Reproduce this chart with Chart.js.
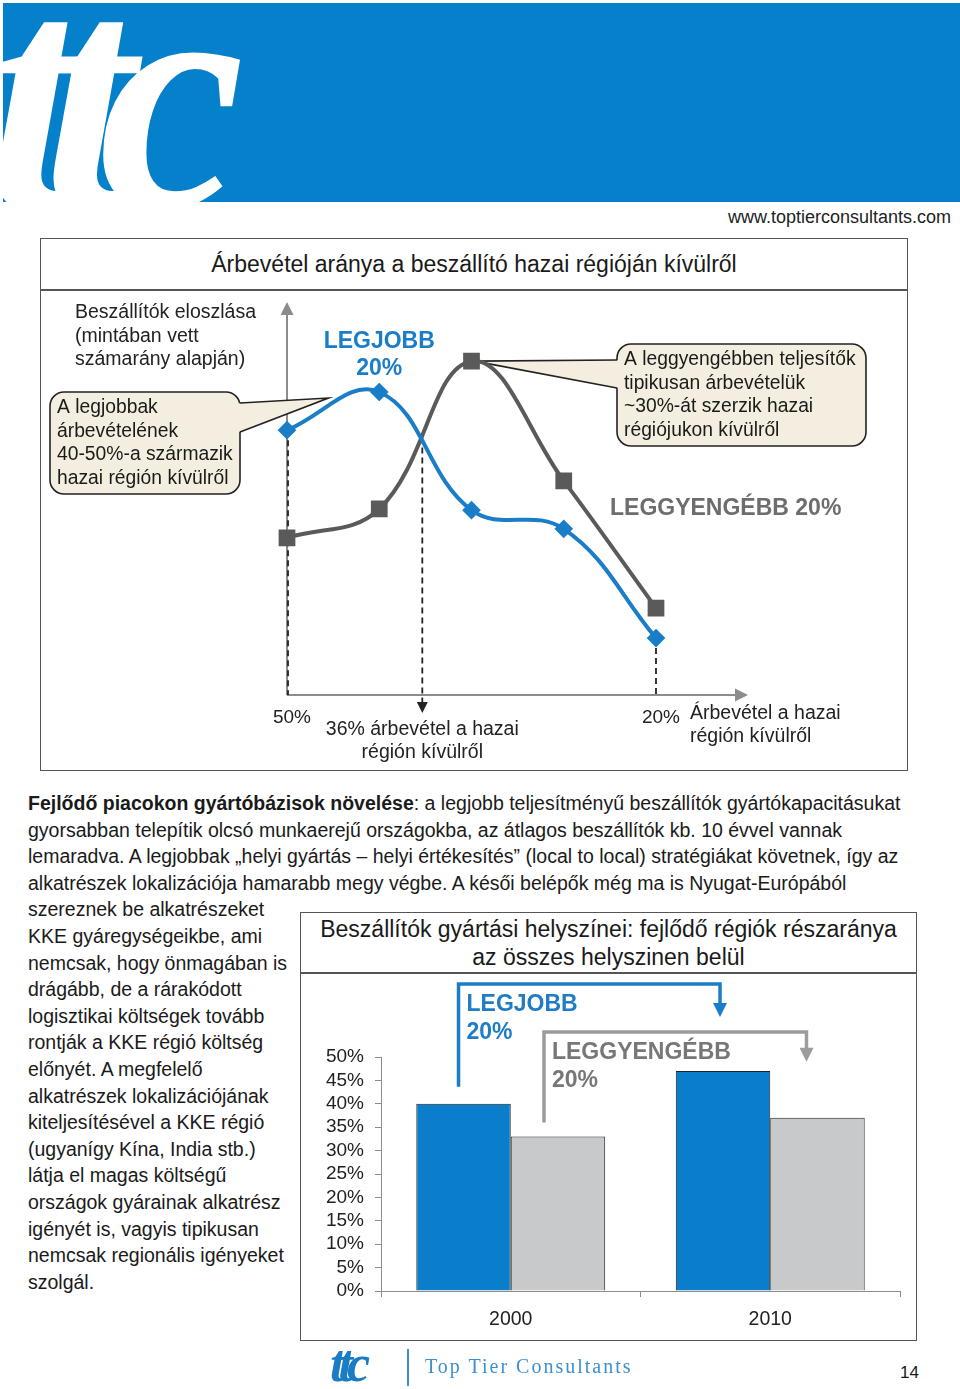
<!DOCTYPE html>
<html>
<head>
<meta charset="utf-8">
<script src="https://cdn.jsdelivr.net/npm/chart.js@4.4.1/dist/chart.umd.min.js"></script>
<style>
  body { margin: 0; background: #fff; font-family: "Liberation Sans", Arial, sans-serif; color: #1a1a1a; }
  #page { position: relative; width: 960px; height: 1389px; overflow: hidden; }
  .abs { position: absolute; }
  #banner { left: 3px; top: 3px; width: 957px; height: 199px; background: #0581cc; overflow: hidden; }
  #logo { left: -16px; top: -96px; font: italic bold 330px "Liberation Serif", serif; color: #fff; letter-spacing: -36px; white-space: nowrap; }
  #url { right: 9px; top: 207px; font-size: 18px; color: #222; }
  .box { border: 1.5px solid #555; box-sizing: border-box; }
  .boxtitle { font-size: 23px; color: #1a1a1a; text-align: center; line-height: 28px; }
  #para { left: 28px; top: 790px; font-size: 19.5px; line-height: 26.6px; white-space: nowrap; }
  #foot-logo { left: 330px; top: 1334px; font: italic bold 52px "Liberation Serif", serif; color: #1b7cc4; letter-spacing: -6px; }
  #foot-name { left: 425px; top: 1355px; font-family: "Liberation Serif", serif; font-size: 20px; color: #3d8fd0; letter-spacing: 2px; white-space: nowrap; }
</style>
</head>
<body>
<div id="page">
  <div id="banner" class="abs"><div id="logo" class="abs">ttc</div></div>
  <div id="url" class="abs">www.toptierconsultants.com</div>

  <!-- chart 1 frame -->
  <div class="abs box" style="left:40px;top:238px;width:868px;height:533px;"></div>
  <div class="abs" style="left:40px;top:289px;width:868px;height:1.5px;background:#555;"></div>
  <div class="abs boxtitle" style="left:40px;top:250px;width:868px;">Árbevétel aránya a beszállító hazai régióján kívülről</div>
  <canvas id="curveChart" class="abs" width="866" height="478" style="left:41px;top:291px;width:866px;height:478px;"></canvas>

  <div id="para" class="abs"><b>Fejlődő piacokon gyártóbázisok növelése</b>: a legjobb teljesítményű beszállítók gyártókapacitásukat<br>gyorsabban telepítik olcsó munkaerejű országokba, az átlagos beszállítók kb. 10 évvel vannak<br>lemaradva. A legjobbak „helyi gyártás – helyi értékesítés” (local to local) stratégiákat követnek, így az<br>alkatrészek lokalizációja hamarabb megy végbe. A késői belépők még ma is Nyugat-Európából<br>szereznek be alkatrészeket<br>KKE gyáregységeikbe, ami<br>nemcsak, hogy önmagában is<br>drágább, de a rárakódott<br>logisztikai költségek tovább<br>rontják a KKE régió költség<br>előnyét. A megfelelő<br>alkatrészek lokalizációjának<br>kiteljesítésével a KKE régió<br>(ugyanígy Kína, India stb.)<br>látja el magas költségű<br>országok gyárainak alkatrész<br>igényét is, vagyis tipikusan<br>nemcsak regionális igényeket<br>szolgál.</div>

  <!-- chart 2 frame -->
  <div class="abs box" style="left:300px;top:912px;width:617px;height:429px;"></div>
  <div class="abs" style="left:300px;top:972px;width:617px;height:1.5px;background:#555;"></div>
  <div class="abs boxtitle" style="left:300px;top:915px;width:617px;">Beszállítók gyártási helyszínei: fejlődő régiók részaránya<br>az összes helyszinen belül</div>
  <canvas id="barChart" class="abs" width="615" height="365" style="left:301px;top:974px;width:615px;height:365px;"></canvas>

  <div id="foot-logo" class="abs">ttc</div>
  <div class="abs" style="left:407px;top:1349px;width:2px;height:37px;background:#3d8fd0;"></div>
  <div id="foot-name" class="abs">Top Tier Consultants</div>
  <div class="abs" style="left:900px;top:1363px;font-size:17px;">14</div>
</div>

<script>
// --- chart 1: distribution of suppliers by revenue share earned outside home region ---
const shareSteps = [50, 42.5, 35, 27.5, 20];          // x: revenue share outside home region (%)
const bestSuppliers = [67.9, 77.7, 47.4, 42.6, 14.6];  // "LEGJOBB 20%" (relative count)
const weakestSuppliers = [40.3, 47.7, 85.6, 54.9, 22.3]; // "LEGGYENGÉBB 20%"
const axisTicks = [50, 20];
const markerAt = 39;        // where the "36%" arrow sits on the drawn axis
const markerFrom = 66;      // curve crossing height
const markerLabel = ['36% árbevétel a hazai', 'régión kívülről'];
const axisTitle = ['Árbevétel a hazai', 'régión kívülről'];

// --- chart 2: share of developing regions among production sites ---
const years = ['2000', '2010'];
const bestShare = [40, 47];
const weakestShare = [33, 37];

const BLUE = '#1a7dc8';
const DARK = '#5a5a5a';
const BEIGE = '#f3eedf';
const FONT = '"Liberation Sans", Arial, sans-serif';

function callout(ctx, box, side, b1, b2, tip, lines) {
  const r = 14;
  ctx.save();
  ctx.beginPath();
  ctx.roundRect(box.x, box.y, box.w, box.h, r);
  ctx.fillStyle = BEIGE;
  ctx.fill();
  ctx.lineWidth = 1.6;
  ctx.strokeStyle = '#222';
  ctx.stroke();
  const ex = side === 'right' ? box.x + box.w : box.x;
  const d = side === 'right' ? -3 : 3;
  ctx.beginPath();
  ctx.moveTo(ex + d, b1 + 1.5);
  ctx.lineTo(ex, b1);
  ctx.lineTo(tip.x, tip.y);
  ctx.lineTo(ex, b2);
  ctx.lineTo(ex + d, b2 - 1.5);
  ctx.closePath();
  ctx.fill();
  ctx.beginPath();
  ctx.moveTo(ex, b1);
  ctx.lineTo(tip.x, tip.y);
  ctx.lineTo(ex, b2);
  ctx.stroke();
  ctx.fillStyle = '#1a1a1a';
  ctx.font = '19.3px ' + FONT;
  ctx.textBaseline = 'middle';
  lines.forEach((t, i) => ctx.fillText(t, box.x + 7, box.y + 16 + i * 23.4));
  ctx.restore();
}

function tri(ctx, x, y, dir, size, color) {
  ctx.beginPath();
  if (dir === 'up') { ctx.moveTo(x, y); ctx.lineTo(x - size / 2, y + size); ctx.lineTo(x + size / 2, y + size); }
  if (dir === 'down') { ctx.moveTo(x, y); ctx.lineTo(x - size / 2, y - size); ctx.lineTo(x + size / 2, y - size); }
  if (dir === 'right') { ctx.moveTo(x, y); ctx.lineTo(x - size, y - size / 2); ctx.lineTo(x - size, y + size / 2); }
  ctx.closePath();
  ctx.fillStyle = color;
  ctx.fill();
}

const curveDecor = {
  id: 'curveDecor',
  beforeDatasetsDraw(chart) {
    const { ctx, chartArea, scales: { x, y } } = chart;
    const x0 = x.getPixelForValue(50), bottom = y.getPixelForValue(0);
    const best = chart.getDatasetMeta(0).data, weak = chart.getDatasetMeta(1).data;
    ctx.save();
    // axes with arrows
    ctx.strokeStyle = '#8c8c8c';
    ctx.lineWidth = 2;
    ctx.beginPath();
    ctx.moveTo(x0, bottom); ctx.lineTo(x0, chartArea.top + 10);
    ctx.moveTo(x0, bottom); ctx.lineTo(chartArea.right + 80, bottom);
    ctx.stroke();
    tri(ctx, x0, chartArea.top - 3, 'up', 13, '#8c8c8c');
    tri(ctx, chartArea.right + 92, bottom, 'right', 13, '#8c8c8c');

    // dashed drop lines
    ctx.strokeStyle = '#222';
    ctx.lineWidth = 1.8;
    ctx.setLineDash([6, 4]);
    ctx.beginPath();
    ctx.moveTo(best[0].x + 1, best[0].y); ctx.lineTo(best[0].x + 1, bottom);
    ctx.moveTo(best[4].x, best[4].y); ctx.lineTo(best[4].x, bottom);
    const mx = x.getPixelForValue(markerAt);
    ctx.moveTo(mx, y.getPixelForValue(markerFrom)); ctx.lineTo(mx, bottom + 8);
    ctx.stroke();
    ctx.setLineDash([]);
    tri(ctx, mx, bottom + 18, 'down', 11, '#222');

    // axis labels
    ctx.fillStyle = '#222';
    ctx.textBaseline = 'middle';
    ctx.font = '19px ' + FONT;
    ctx.textAlign = 'center';
    axisTicks.forEach(v => ctx.fillText(v + '%', x.getPixelForValue(v) + 5, bottom + 23));
    ctx.font = '19.5px ' + FONT;
    markerLabel.forEach((t, i) => ctx.fillText(t, mx, bottom + 35 + i * 23));
    ctx.textAlign = 'left';
    axisTitle.forEach((t, i) => ctx.fillText(t, chartArea.right + 34, bottom + 19 + i * 23));

    // headings
    ctx.fillText('Beszállítók eloszlása', 34, 22);
    ctx.fillText('(mintában vett', 34, 46);
    ctx.fillText('számarány alapján)', 34, 69);
    ctx.font = 'bold 23px ' + FONT;
    ctx.textAlign = 'center';
    ctx.fillStyle = BLUE;
    ctx.fillText('LEGJOBB', best[1].x, 51);
    ctx.fillText('20%', best[1].x, 78);
    ctx.textAlign = 'left';
    ctx.fillStyle = '#6d6d6d';
    ctx.fillText('LEGGYENGÉBB 20%', 569, 218);

    // callouts
    const tipL = { x: best[0].x + 0.45 * (best[1].x - best[0].x), y: best[0].y + 0.45 * (best[1].y - best[0].y) - 15 };
    callout(ctx, { x: 9, y: 101, w: 190, h: 102 }, 'right', 112, 141, tipL,
      ['A legjobbak', 'árbevételének', '40-50%-a származik', 'hazai régión kívülről']);
    callout(ctx, { x: 576, y: 53, w: 249, h: 102 }, 'left', 69, 97, { x: weak[2].x + 3, y: weak[2].y },
      ['A leggyengébben teljesítők', 'tipikusan árbevételük', '~30%-át szerzik hazai', 'régiójukon kívülről']);
    ctx.restore();
  }
};

new Chart(document.getElementById('curveChart'), {
  type: 'line',
  data: {
    datasets: [{
      label: 'LEGJOBB 20%',
      data: shareSteps.map((s, i) => ({ x: s, y: bestSuppliers[i] })),
      borderColor: BLUE,
      backgroundColor: BLUE,
      borderWidth: 4,
      tension: 0.4,
      pointStyle: 'rectRot',
      pointRadius: 6.5,
      clip: false,
    }, {
      label: 'LEGGYENGÉBB 20%',
      data: shareSteps.map((s, i) => ({ x: s, y: weakestSuppliers[i] })),
      borderColor: DARK,
      backgroundColor: DARK,
      borderWidth: 4,
      tension: 0.4,
      pointStyle: 'rect',
      pointRadius: 9,
      clip: false,
    }]
  },
  options: {
    responsive: false,
    animation: false,
    layout: { padding: { left: 246, right: 251, top: 14, bottom: 74 } },
    plugins: { legend: { display: false }, tooltip: { enabled: false } },
    scales: {
      x: { type: 'linear', reverse: true, min: 20, max: 50, display: false },
      y: { min: 0, max: 100, display: false }
    }
  },
  plugins: [curveDecor]
});

// bracket arrows above the bars
const bracketDecor = {
  id: 'bracketDecor',
  afterDatasetsDraw(chart) {
    const { ctx, chartArea } = chart;
    const b = chart.getDatasetMeta(0).data, g = chart.getDatasetMeta(1).data;
    const specs = [
      { from: b[0], to: b[1], dx0: -5, dx1: -3, top: chartArea.top - 73, gap0: 17, gap1: 54, color: BLUE, text: '#1f7cc5', label: ['LEGJOBB', '20%'] },
      { from: g[0], to: g[1], dx0: -14, dx1: -11, top: chartArea.top - 25, gap0: 14, gap1: 56, color: '#9c9c9c', text: '#777', label: ['LEGGYENGÉBB', '20%'] }
    ];
    ctx.save();
    specs.forEach(s => {
      const lx = s.from.x + s.dx0, rx = s.to.x + s.dx1, tipY = s.to.y - s.gap1;
      ctx.strokeStyle = s.color;
      ctx.lineWidth = 3.5;
      ctx.beginPath();
      ctx.moveTo(lx, s.from.y - s.gap0);
      ctx.lineTo(lx, s.top);
      ctx.lineTo(rx, s.top);
      ctx.lineTo(rx, tipY - 12);
      ctx.stroke();
      tri(ctx, rx, tipY, 'down', 14, s.color);
      ctx.fillStyle = s.text;
      ctx.font = 'bold 23px ' + FONT;
      ctx.textBaseline = 'middle';
      s.label.forEach((t, i) => ctx.fillText(t, lx + 8, s.top + 21 + i * 28));
    });
    ctx.restore();
  }
};

new Chart(document.getElementById('barChart'), {
  type: 'bar',
  data: {
    labels: years,
    datasets: [{
      label: 'LEGJOBB 20%',
      data: bestShare,
      backgroundColor: '#0a7dcb',
      borderColor: '#222',
      borderWidth: 1,
      categoryPercentage: 0.728,
      barPercentage: 1.0,
    }, {
      label: 'LEGGYENGÉBB 20%',
      data: weakestShare,
      backgroundColor: '#c7c9cb',
      borderColor: '#222',
      borderWidth: 1,
      categoryPercentage: 0.728,
      barPercentage: 1.0,
    }]
  },
  options: {
    responsive: false,
    animation: false,
    layout: { padding: { left: 0, right: 16, top: 83, bottom: 0 } },
    plugins: { legend: { display: false }, tooltip: { enabled: false } },
    scales: {
      x: {
        afterFit: s => { s.height = 48; },
        grid: { drawOnChartArea: false, tickLength: 6, color: '#8c8c8c' },
        border: { color: '#8c8c8c', width: 1 },
        ticks: { color: '#222', padding: 11, font: { family: FONT, size: 19.5 } }
      },
      y: {
        min: 0, max: 50,
        afterFit: s => { s.width = 80; },
        grid: { drawOnChartArea: false, tickLength: 6, color: '#8c8c8c' },
        border: { color: '#8c8c8c', width: 1 },
        ticks: { stepSize: 5, autoSkip: false, color: '#222', padding: 11, font: { family: FONT, size: 19 }, callback: v => v + '%' }
      }
    }
  },
  plugins: [bracketDecor]
});
</script>
</body>
</html>
